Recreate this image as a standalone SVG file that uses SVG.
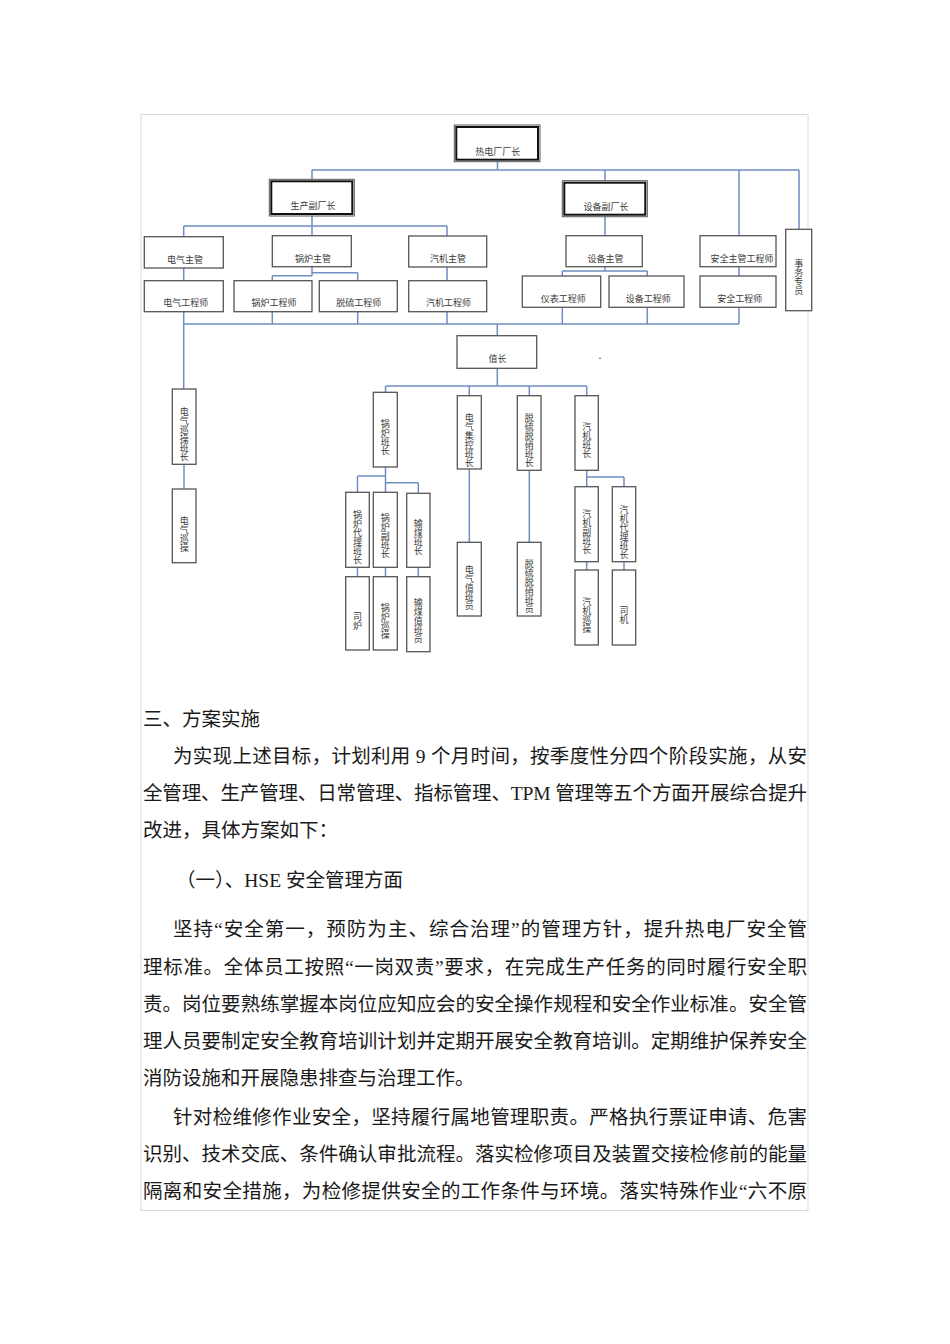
<svg xmlns="http://www.w3.org/2000/svg" width="950" height="1344" viewBox="0 0 950 1344">
<style>
.page{fill:#fff;stroke:#d9d9d9;stroke-width:1}
.box{fill:#fff;stroke:#555;stroke-width:1.3}
.dbo{fill:#fff;stroke:#555;stroke-width:1}
.dbi{fill:none;stroke:#111;stroke-width:2}
.conn{fill:none;stroke:#6f8fc2;stroke-width:1.5}
.lbl{font-family:"Noto Sans CJK SC","Noto Sans",sans-serif;font-size:9px;fill:#3a3a3a;text-anchor:middle}
.vl{font-family:"Noto Sans CJK SC","Noto Sans",sans-serif;font-size:9px;fill:#3a3a3a;text-anchor:middle;writing-mode:vertical-rl;text-orientation:upright}
.para{font-family:"Liberation Serif","Noto Sans CJK SC",serif;font-size:19.5px;fill:#1a1a1a}
</style>
<rect width="950" height="1344" fill="#fff"/>
<rect class="page" x="141" y="114.5" width="667" height="1096"/>

<g id="connectors">
<path class="conn" d="M497.5,161V170 M312,170H799 M312,170V179.3 M605,170V180.7 M739,170V235.7 M799,170V229.3
M312,216V226 M183.7,226H447 M183.7,226V236.7 M312,226V235.7 M447,226V236
M183.7,268V280.7
M312,266.7V275.7 M272.3,275.7H312 M272.3,275.7V280.7 M312,272.7H357.7 M357.7,272.7V280.7
M447,267V280.7
M605,216.7V235.7 M605,266.7V271 M562.3,271H647.3 M562.3,271V276 M647.3,271V276
M739,266.7V276
M183.7,311.7V389 M272.3,311.7V324 M357.7,311.7V324 M447,311.7V324 M562.3,307.3V324 M647.3,307.3V324 M739,307.3V324 M183.7,324H739 M497.3,324V335.7
M497.3,368.3V386 M385.5,386H586.7 M385.5,386V392.3 M469.3,386V395.7 M529.3,386V395.7 M586.7,386V395.7
M184,464.3V489
M385.5,467V492.3 M357.5,476H385.5 M357.5,476V492.3 M385.5,482.7H418.3 M418.3,482.7V493.3
M357.5,567.3V576.7 M385.5,567.3V576.7 M418.3,567.3V576.7
M469.3,469V542.3 M529.3,470.3V542.3
M586.7,470.3V486.7 M586.7,477H624 M624,477V486.7 M586.7,561.7V570 M624,561.7V570"/>
</g>

<g id="n-director"><rect class="dbo" x="454.3" y="125" width="85.7" height="36.7"/><rect class="dbi" x="456.3" y="127" width="81.7" height="32.7"/><text class="lbl" x="497.8" y="155">热电厂厂长</text></g>
<g id="n-prod-vp"><rect class="dbo" x="269.3" y="179.3" width="85" height="36.7"/><rect class="dbi" x="271.3" y="181.3" width="81" height="32.7"/><text class="lbl" x="313" y="209">生产副厂长</text></g>
<g id="n-equip-vp"><rect class="dbo" x="562.3" y="180.7" width="85" height="36"/><rect class="dbi" x="564.3" y="182.7" width="81" height="32"/><text class="lbl" x="606" y="210">设备副厂长</text></g>

<g id="n-elec-mgr"><rect class="box" x="144.3" y="236.7" width="79" height="31.3"/><text class="lbl" x="185" y="262.6">电气主管</text></g>
<g id="n-boiler-mgr"><rect class="box" x="272.3" y="235.7" width="79" height="31"/><text class="lbl" x="313" y="262">锅炉主管</text></g>
<g id="n-turbine-mgr"><rect class="box" x="408.7" y="236" width="78" height="31"/><text class="lbl" x="448" y="262">汽机主管</text></g>
<g id="n-elec-eng"><rect class="box" x="144.3" y="280.7" width="79" height="31"/><text class="lbl" x="185.8" y="306">电气工程师</text></g>
<g id="n-boiler-eng"><rect class="box" x="234" y="280.7" width="78" height="31"/><text class="lbl" x="274" y="306">锅炉工程师</text></g>
<g id="n-desulf-eng"><rect class="box" x="319.3" y="280.7" width="78" height="31"/><text class="lbl" x="358.8" y="306">脱硫工程师</text></g>
<g id="n-turbine-eng"><rect class="box" x="408.7" y="280.7" width="78" height="31"/><text class="lbl" x="448.5" y="306">汽机工程师</text></g>

<g id="n-equip-mgr"><rect class="box" x="566" y="235.7" width="76.3" height="31"/><text class="lbl" x="605.5" y="261.6">设备主管</text></g>
<g id="n-instr-eng"><rect class="box" x="522.3" y="276" width="78.4" height="31.3"/><text class="lbl" x="563.3" y="301.6">仪表工程师</text></g>
<g id="n-equip-eng"><rect class="box" x="609" y="276" width="75" height="31.3"/><text class="lbl" x="648.2" y="301.6">设备工程师</text></g>
<g id="n-safety-mgr"><rect class="box" x="700" y="235.7" width="76" height="31"/><text class="lbl" x="742" y="261.6">安全主管工程师</text></g>
<g id="n-safety-eng"><rect class="box" x="700" y="276" width="76" height="31.3"/><text class="lbl" x="739.8" y="301.6">安全工程师</text></g>
<g id="n-affairs"><rect class="box" x="785.7" y="229.3" width="26" height="81.4"/><text class="vl" x="798.7" y="277.5">事务专员</text></g>

<g id="n-shift-chief"><rect class="box" x="457" y="335.7" width="79.7" height="32.6"/><text class="lbl" x="497.5" y="362.4">值长</text></g>
<line x1="599" y1="358.3" x2="601" y2="358.3" stroke="#555" stroke-width="1"/>

<g id="n-elec-patrol-lead"><rect class="box" x="172.3" y="389" width="23.7" height="75.3"/><text class="vl" x="184.2" y="434">电气巡操班长</text></g>
<g id="n-elec-patrol"><rect class="box" x="172.3" y="489" width="23.7" height="73.7"/><text class="vl" x="184.2" y="533.7">电气巡操</text></g>
<g id="n-boiler-lead"><rect class="box" x="373.3" y="392.3" width="24" height="74.7"/><text class="vl" x="385.3" y="437">锅炉班长</text></g>
<g id="n-elec-ctrl-lead"><rect class="box" x="457.3" y="395.7" width="24" height="73.3"/><text class="vl" x="469.3" y="440">电气集控班长</text></g>
<g id="n-desulf-lead"><rect class="box" x="517.3" y="395.7" width="23.7" height="74.6"/><text class="vl" x="529.2" y="440.5">脱硫脱硝班长</text></g>
<g id="n-turbine-lead"><rect class="box" x="575" y="395.7" width="23.3" height="74.6"/><text class="vl" x="586.7" y="440">汽机班长</text></g>

<g id="n-boiler-acting"><rect class="box" x="345.7" y="492.3" width="23.6" height="75"/><text class="vl" x="357.5" y="537">锅炉代理班长</text></g>
<g id="n-boiler-deputy"><rect class="box" x="373.3" y="492.3" width="24" height="75"/><text class="vl" x="385.3" y="536">锅炉副班长</text></g>
<g id="n-coal-lead"><rect class="box" x="406.7" y="493.3" width="23.3" height="74"/><text class="vl" x="418.3" y="537">输煤班长</text></g>
<g id="n-stoker"><rect class="box" x="345.7" y="576.7" width="23.6" height="73.3"/><text class="vl" x="357.5" y="621">司炉</text></g>
<g id="n-boiler-patrol"><rect class="box" x="373.3" y="576.7" width="24" height="73.3"/><text class="vl" x="385.3" y="621">锅炉巡操</text></g>
<g id="n-coal-duty"><rect class="box" x="406.7" y="576.7" width="23.3" height="75"/><text class="vl" x="418.3" y="621">输煤值班员</text></g>
<g id="n-elec-duty"><rect class="box" x="457.3" y="542.3" width="24" height="73.7"/><text class="vl" x="469.3" y="587.5">电气值班员</text></g>
<g id="n-desulf-duty"><rect class="box" x="517.3" y="542.3" width="23.7" height="73.7"/><text class="vl" x="529.2" y="586">脱硫脱硝班员</text></g>
<g id="n-turbine-deputy"><rect class="box" x="575" y="486.7" width="23.3" height="75"/><text class="vl" x="586.7" y="532">汽机副班长</text></g>
<g id="n-turbine-acting"><rect class="box" x="612.3" y="486.7" width="23.4" height="75"/><text class="vl" x="624" y="532">汽机代理班长</text></g>
<g id="n-turbine-patrol"><rect class="box" x="575" y="570" width="23.3" height="75"/><text class="vl" x="586.7" y="615">汽机巡操</text></g>
<g id="n-driver"><rect class="box" x="612.3" y="570" width="23.4" height="75"/><text class="vl" x="624" y="615">司机</text></g>

<g id="body-text">
<text class="para" x="143" y="726">三、方案实施</text>
<text class="para" x="173" y="763" textLength="634" lengthAdjust="spacing">为实现上述目标，计划利用 9 个月时间，按季度性分四个阶段实施，从安</text>
<text class="para" x="143" y="800" textLength="664" lengthAdjust="spacing">全管理、生产管理、日常管理、指标管理、TPM 管理等五个方面开展综合提升</text>
<text class="para" x="143" y="837">改进，具体方案如下：</text>
<text class="para" x="176" y="887">（一）、HSE 安全管理方面</text>
<text class="para" x="173" y="936" textLength="634" lengthAdjust="spacing">坚持“安全第一，预防为主、综合治理”的管理方针，提升热电厂安全管</text>
<text class="para" x="143" y="974" textLength="664" lengthAdjust="spacing">理标准。全体员工按照“一岗双责”要求，在完成生产任务的同时履行安全职</text>
<text class="para" x="143" y="1011" textLength="664" lengthAdjust="spacing">责。岗位要熟练掌握本岗位应知应会的安全操作规程和安全作业标准。安全管</text>
<text class="para" x="143" y="1048" textLength="664" lengthAdjust="spacing">理人员要制定安全教育培训计划并定期开展安全教育培训。定期维护保养安全</text>
<text class="para" x="143" y="1085">消防设施和开展隐患排查与治理工作。</text>
<text class="para" x="173" y="1124" textLength="634" lengthAdjust="spacing">针对检维修作业安全，坚持履行属地管理职责。严格执行票证申请、危害</text>
<text class="para" x="143" y="1161" textLength="664" lengthAdjust="spacing">识别、技术交底、条件确认审批流程。落实检修项目及装置交接检修前的能量</text>
<text class="para" x="143" y="1198" textLength="664" lengthAdjust="spacing">隔离和安全措施，为检修提供安全的工作条件与环境。落实特殊作业“六不原</text>
</g>
</svg>
